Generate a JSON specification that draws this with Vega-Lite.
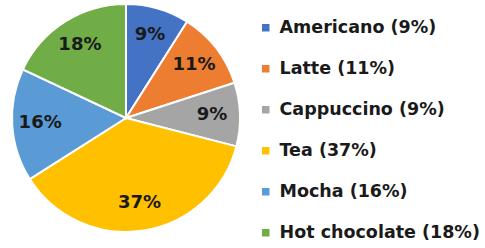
{
  "$schema": "https://vega.github.io/schema/vega-lite/v6.json",
  "width": 252,
  "height": 230,
  "padding": {"left": 0, "top": 0, "right": 0, "bottom": 0},
  "autosize": {"type": "pad"},
  "background": "white",
  "config": {"view": {"stroke": null}},
  "data": {
    "values": [
      {"i": 1, "drink": "Americano", "label": "Americano (9%)", "pct": 0.09},
      {"i": 2, "drink": "Latte", "label": "Latte (11%)", "pct": 0.11},
      {"i": 3, "drink": "Cappuccino", "label": "Cappuccino (9%)", "pct": 0.09},
      {"i": 4, "drink": "Tea", "label": "Tea (37%)", "pct": 0.37},
      {"i": 5, "drink": "Mocha", "label": "Mocha (16%)", "pct": 0.16},
      {"i": 6, "drink": "Hot chocolate", "label": "Hot chocolate (18%)", "pct": 0.18}
    ]
  },
  "encoding": {
    "theta": {"field": "pct", "type": "quantitative", "stack": true},
    "order": {"field": "i", "type": "quantitative"},
    "color": {
      "field": "label",
      "type": "nominal",
      "sort": null,
      "scale": {
        "domain": ["Americano (9%)", "Latte (11%)", "Cappuccino (9%)", "Tea (37%)", "Mocha (16%)", "Hot chocolate (18%)"],
        "range": ["#4472C4", "#ED7D31", "#A5A5A5", "#FFC000", "#5B9BD5", "#70AD47"]
      },
      "legend": {
        "title": null,
        "orient": "none",
        "legendX": 257,
        "legendY": 16,
        "padding": 0,
        "symbolType": "square",
        "symbolSize": 56,
        "symbolStrokeWidth": 0,
        "labelFont": "DejaVu Sans",
        "labelFontSize": 17.5,
        "labelFontWeight": "bold",
        "labelColor": "#1a1a1a",
        "labelOffset": 5,
        "labelLimit": 300,
        "rowPadding": 22
      }
    }
  },
  "layer": [
    {
      "mark": {"type": "arc", "outerRadius": 114, "stroke": "white", "strokeWidth": 2}
    },
    {
      "mark": {"type": "text", "radius": 86, "font": "DejaVu Sans", "fontSize": 18, "fontWeight": "bold", "fill": "#1a1a1a"},
      "encoding": {
        "text": {"field": "pct", "type": "quantitative", "format": ".0%"},
        "color": {"value": "#1a1a1a"}
      }
    }
  ]
}
